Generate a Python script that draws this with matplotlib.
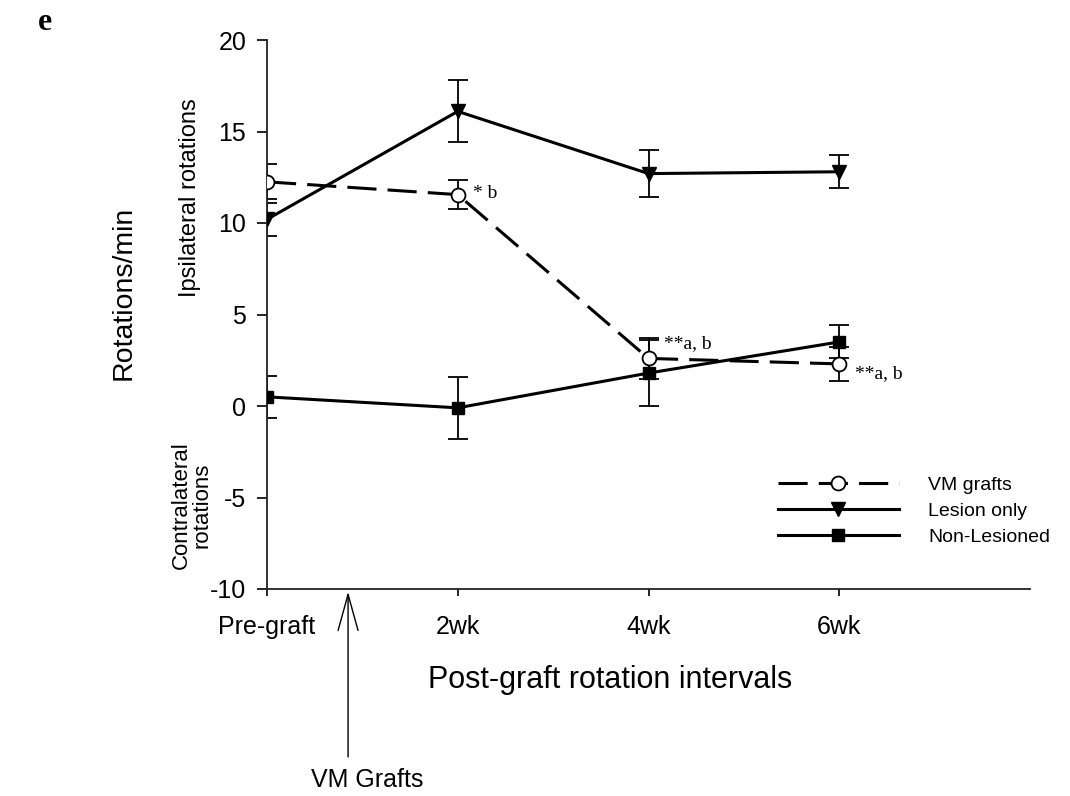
import matplotlib
matplotlib.use("Agg")
import matplotlib.pyplot as plt

plt.rcParams['font.family'] = ['Liberation Sans', 'DejaVu Sans']
plt.rcParams['lines.scale_dashes'] = False
plt.rcParams['axes.unicode_minus'] = False

intervals = ["Pre-graft", "2wk", "4wk", "6wk"]
xpos = [0, 1, 2, 3]

vm_mean = [12.25, 11.55, 2.6, 2.3]
vm_err = [0.95, 0.8, 1.1, 0.95]
lesion_mean = [10.2, 16.1, 12.7, 12.8]
lesion_err = [0.9, 1.7, 1.3, 0.9]
nonles_mean = [0.5, -0.1, 1.8, 3.5]
nonles_err = [1.15, 1.7, 1.8, 0.9]

sig_labels = [None, "* b", "**a, b", "**a, b"]
sig_offsets = [None, (11, 1), (11, 11), (11, -7)]

graft_x = 0.425

fig = plt.figure(figsize=(10.7, 7.96), dpi=100)
ax = fig.add_axes([267/1070, 1-589/796, 763/1070, 549/796])

eb = dict(fmt='none', ecolor='black', elinewidth=1.3, capsize=7, capthick=1.3)
ax.errorbar(xpos, lesion_mean, yerr=lesion_err, zorder=2, **eb)
ax.errorbar(xpos, nonles_mean, yerr=nonles_err, zorder=2, **eb)
ax.errorbar(xpos, vm_mean, yerr=vm_err, zorder=2, **eb)

ax.plot(xpos, vm_mean, color='black', lw=2.2, dashes=(21, 8),
        marker='o', ms=10, mfc='white', mec='black', mew=1.3,
        label='VM grafts', zorder=3)
ax.plot(xpos, lesion_mean, color='black', lw=2.2, marker='v', ms=10,
        mfc='black', mec='black', label='Lesion only', zorder=3)
ax.plot(xpos, nonles_mean, color='black', lw=2.2, marker='s', ms=9,
        mfc='black', mec='black', label='Non-Lesioned', zorder=3)

for x, y, lab, off in zip(xpos, vm_mean, sig_labels, sig_offsets):
    if lab:
        ax.annotate(lab, xy=(x, y), xytext=off, textcoords='offset points',
                    ha='left', va='center', fontsize=14,
                    family=['Liberation Serif', 'DejaVu Serif'])

ax.set_xlim(0, 4)
ax.set_ylim(-10, 20)
ax.set_xticks(xpos)
ax.set_xticklabels(intervals)
ax.set_yticks(range(-10, 21, 5))
ax.tick_params(axis='both', labelsize=18, direction='out', width=1.2)
ax.tick_params(axis='y', length=7, pad=8)
ax.tick_params(axis='x', length=5, pad=14)
for s in ['top', 'right']:
    ax.spines[s].set_visible(False)
for s in ['left', 'bottom']:
    ax.spines[s].set_linewidth(1.3)
    ax.spines[s].set_color('#222222')

fig.text(610/1070, 1-680/796, "Post-graft rotation intervals", fontsize=22,
         ha='center', va='center')

ax.legend(loc='upper left', bbox_to_anchor=(0.67, 0.205), frameon=False,
          fontsize=14, handlelength=6.2, handletextpad=1.5,
          labelspacing=0.42, borderpad=0, borderaxespad=0)

fig.text(124/1070, 1-293/796, "Rotations/min", rotation=90, fontsize=20.5,
         ha='center', va='center')
fig.text(190/1070, 1-198/796, "Ipsilateral rotations", rotation=90,
         fontsize=17, ha='center', va='center')
fig.text(192/1070, 1-505/796, "Contralateral\nrotations", rotation=90,
         fontsize=16, ha='center', va='center', linespacing=1.0)

ax.annotate("", xy=(graft_x, -10), xycoords='data',
            xytext=(graft_x, 796-757), textcoords=('data', 'figure pixels'),
            arrowprops=dict(arrowstyle='->,head_length=1.3,head_width=0.36',
                            lw=1.0, color='black', shrinkA=0, shrinkB=2,
                            mutation_scale=20),
            annotation_clip=False)
fig.text(367/1070, 1-780/796, "VM Grafts", fontsize=18, ha='center',
         va='center')

fig.text(45/1070, 1-22/796, "e", fontsize=23, fontweight='bold',
         family=['Liberation Serif', 'DejaVu Serif'], ha='center', va='center')

fig.savefig("out.png", dpi=100)
